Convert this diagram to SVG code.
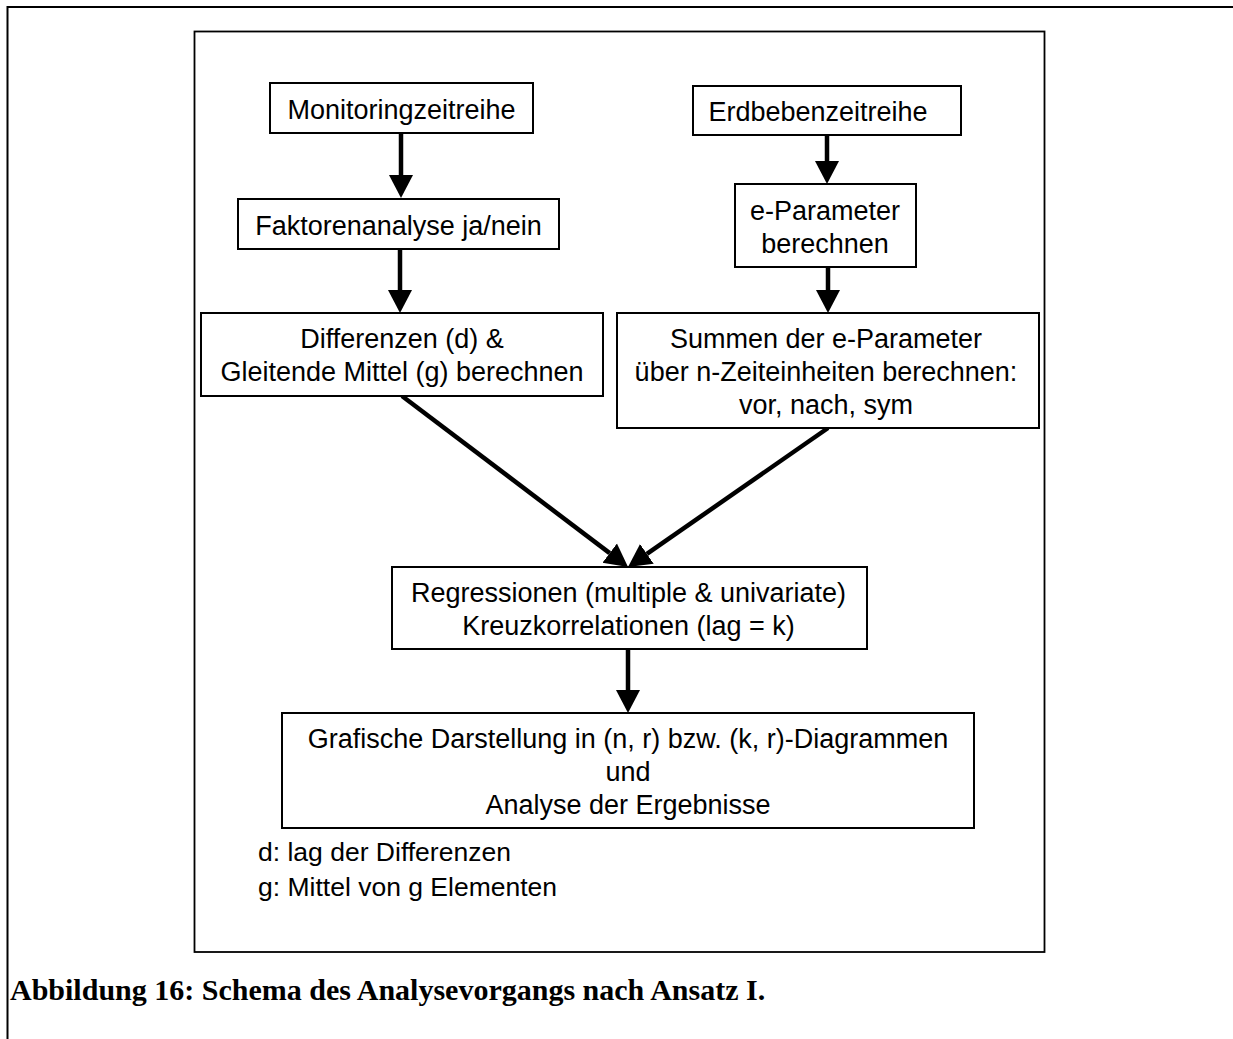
<svg xmlns="http://www.w3.org/2000/svg" width="1233" height="1039" viewBox="0 0 1233 1039">
  <style>
    .box { fill: #ffffff; stroke: #000000; stroke-width: 2; }
    .lbl { font-family: "Liberation Sans", Arial, sans-serif; font-size: 27px; fill: #000000; text-anchor: middle; }
    .note { font-family: "Liberation Sans", Arial, sans-serif; font-size: 26.5px; fill: #000000; }
    .cap { font-family: "Liberation Serif", "Times New Roman", serif; font-size: 30px; font-weight: bold; fill: #000000; }
    .conn { stroke: #000000; stroke-width: 4.5; fill: none; marker-end: url(#head); }
    .frame { fill: none; stroke: #000000; }
  </style>
  <defs>
    <marker id="head" markerUnits="userSpaceOnUse" markerWidth="24" markerHeight="26" viewBox="0 -13 24 26" refX="0" refY="0" orient="auto">
      <path d="M0,-12 L23,0 L0,12 Z" fill="#000000"/>
    </marker>
  </defs>
  <rect width="1233" height="1039" fill="#ffffff"/>

  <g id="outer-frame">
    <path class="frame" stroke-width="2" d="M7.5,1039 L7.5,7 L1233,7"/>
  </g>
  <g id="inner-frame">
    <rect class="frame" stroke-width="1.8" x="194.5" y="31.5" width="850" height="920.5"/>
  </g>

  <g id="connectors">
    <line class="conn" x1="401" y1="133" x2="401" y2="175"/>
    <line class="conn" x1="400" y1="249" x2="400" y2="290"/>
    <line class="conn" x1="827" y1="135" x2="827" y2="161"/>
    <line class="conn" x1="828" y1="267" x2="828" y2="290"/>
    <line class="conn" x1="402" y1="396" x2="609.7" y2="553.1"/>
    <line class="conn" x1="828" y1="428" x2="646.9" y2="553.9"/>
    <line class="conn" x1="628" y1="649" x2="628" y2="690"/>
  </g>

  <g id="node-monitoring">
    <rect class="box" x="270" y="83" width="263" height="50"/>
    <text class="lbl" x="401.5" y="119">Monitoringzeitreihe</text>
  </g>
  <g id="node-faktoren">
    <rect class="box" x="238" y="199" width="321" height="50"/>
    <text class="lbl" x="398.5" y="235">Faktorenanalyse ja/nein</text>
  </g>
  <g id="node-differenzen">
    <rect class="box" x="201" y="313" width="402" height="83"/>
    <text class="lbl" x="402" y="348">Differenzen (d) &amp;</text>
    <text class="lbl" x="402" y="381">Gleitende Mittel (g) berechnen</text>
  </g>
  <g id="node-erdbeben">
    <rect class="box" x="693" y="86" width="268" height="49"/>
    <text class="lbl" x="818" y="121">Erdbebenzeitreihe</text>
  </g>
  <g id="node-eparameter">
    <rect class="box" x="735" y="184" width="181" height="83"/>
    <text class="lbl" x="825" y="220">e-Parameter</text>
    <text class="lbl" x="825" y="253">berechnen</text>
  </g>
  <g id="node-summen">
    <rect class="box" x="617" y="313" width="422" height="115"/>
    <text class="lbl" x="826" y="348">Summen der e-Parameter</text>
    <text class="lbl" x="826" y="381">über n-Zeiteinheiten berechnen:</text>
    <text class="lbl" x="826" y="414">vor, nach, sym</text>
  </g>
  <g id="node-regression">
    <rect class="box" x="392" y="567" width="475" height="82"/>
    <text class="lbl" x="628.5" y="602">Regressionen (multiple &amp; univariate)</text>
    <text class="lbl" x="628.5" y="635">Kreuzkorrelationen (lag = k)</text>
  </g>
  <g id="node-grafik">
    <rect class="box" x="282" y="713" width="692" height="115"/>
    <text class="lbl" x="628" y="748">Grafische Darstellung in (n, r) bzw. (k, r)-Diagrammen</text>
    <text class="lbl" x="628" y="781">und</text>
    <text class="lbl" x="628" y="814">Analyse der Ergebnisse</text>
  </g>

  <g id="legend">
    <text class="note" x="258" y="861">d: lag der Differenzen</text>
    <text class="note" x="258" y="896">g: Mittel von g Elementen</text>
  </g>
  <g id="caption">
    <text class="cap" x="10" y="1000">Abbildung 16: Schema des Analysevorgangs nach Ansatz I.</text>
  </g>
</svg>
